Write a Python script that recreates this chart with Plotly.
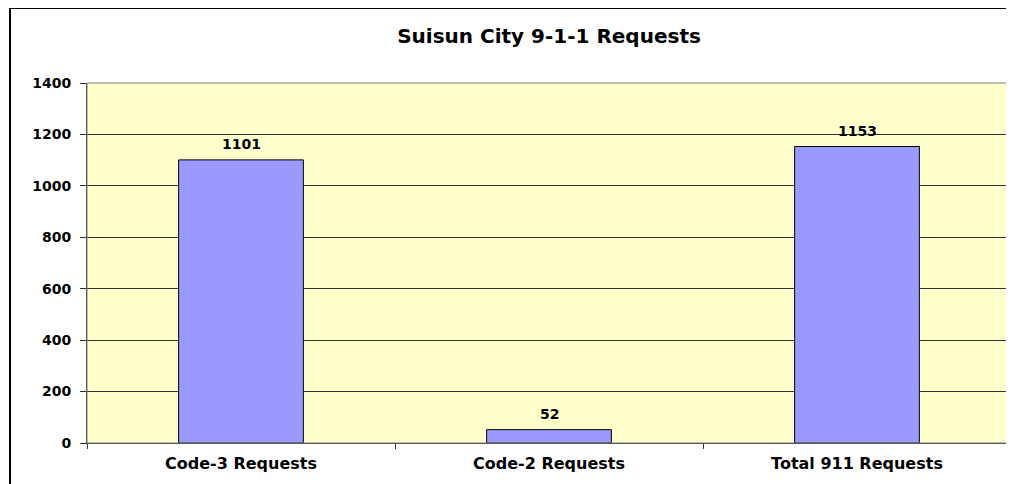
import plotly.graph_objects as go

categories = ["Code-3 Requests", "Code-2 Requests", "Total 911 Requests"]
values = [1101, 52, 1153]
y_ticks = [0, 200, 400, 600, 800, 1000, 1200, 1400]

# page body offsets the figure by 8px; figure sized to fill the remaining window
OFF = 8
W, H = 1014 - OFF, 484 - OFF
L, R, T, B = 87 - OFF, 3, 83 - OFF, 41
pw, ph = W - L - R, H - T - B
FONT = "DejaVu Sans, Verdana, Arial"

fig = go.Figure(go.Bar(
    x=categories, y=values,
    marker=dict(color="#9999FF", line=dict(color="#000000", width=1)),
    width=0.405,
))

annotations = [
    dict(x=c, y=v, xref="x", yref="y", text=f"<b>{v}</b>", showarrow=False,
         yanchor="bottom", yshift=6,
         font=dict(family=FONT, size=14, color="#000000"))
    for c, v in zip(categories, values)
]

fig.update_layout(
    width=W, height=H,
    margin=dict(l=L, r=R, t=T, b=B),
    paper_bgcolor="#FFFFFF",
    plot_bgcolor="#FFFFCC",
    showlegend=False,
    font=dict(family=FONT, color="#000000"),
    annotations=annotations,
    title=dict(text="<b>Suisun City 9-1-1 Requests</b>", x=0.5, xanchor="center",
               xref="paper", y=1 - (36 - OFF) / H, yanchor="middle", yref="container",
               font=dict(size=20, family=FONT, color="#000000")),
    shapes=[
        dict(type="rect", xref="paper", yref="paper",
             x0=(10 - OFF - L) / pw, x1=1 + (R + 20) / pw,
             y0=-(B + 20) / ph, y1=1 + (T - (8 - OFF)) / ph,
             line=dict(color="#000000", width=2), fillcolor="rgba(0,0,0,0)", layer="below"),
        dict(type="rect", xref="paper", yref="paper", x0=0, x1=1, y0=0, y1=1,
             line=dict(color="#808080", width=1), fillcolor="rgba(0,0,0,0)", layer="above"),
    ],
)

fig.update_yaxes(
    range=[0, 1400], tickvals=y_ticks, ticktext=[str(v) for v in y_ticks],
    showgrid=True, gridcolor="#333333", gridwidth=1,
    showline=True, linecolor="#333333", linewidth=1,
    ticks="outside", ticklen=6, tickcolor="#333333",
    tickfont=dict(size=14, family=FONT, color="#000000", weight="bold"),
    ticklabelstandoff=6,
    zeroline=False, fixedrange=True,
)
fig.update_xaxes(
    showline=True, linecolor="#333333", linewidth=1,
    ticks="outside", ticklen=5, tickcolor="#333333", tickson="boundaries",
    tickfont=dict(size=16, family=FONT, color="#000000", weight="bold"),
    ticklabelstandoff=6,
    showgrid=False, fixedrange=True,
)

fig.write_html("out.html")
